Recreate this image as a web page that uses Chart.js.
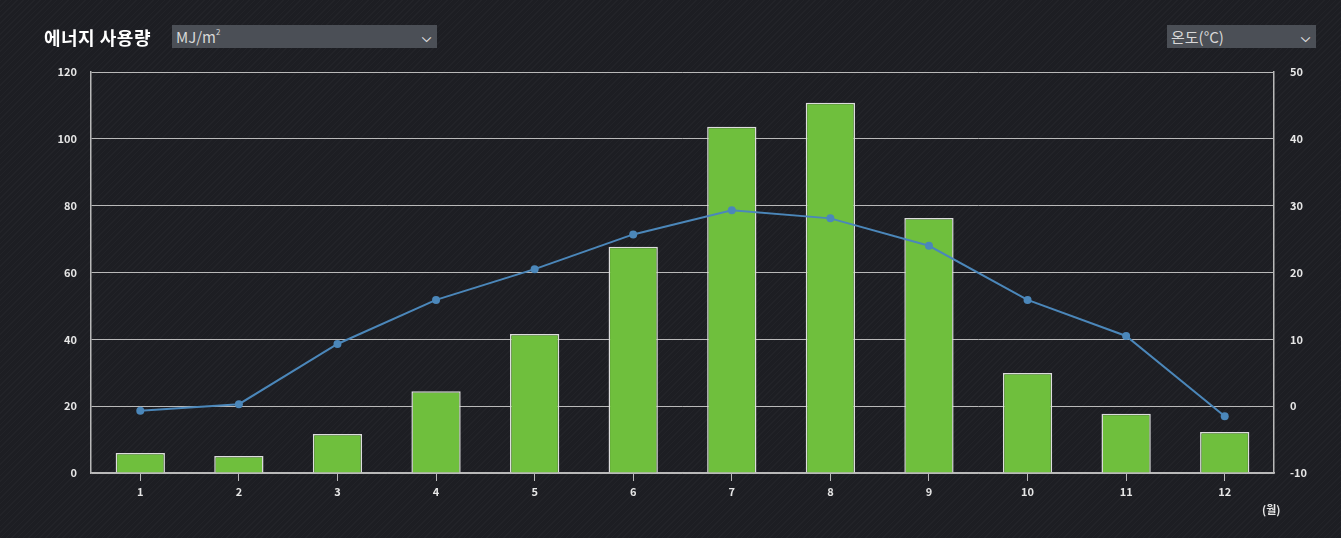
<!DOCTYPE html>
<html>
<head>
<meta charset="utf-8">
<script src="https://cdn.jsdelivr.net/npm/chart.js@4.4.1/dist/chart.umd.min.js"></script>
<style>
    html, body { margin: 0; padding: 0; }
    body {
        width: 1341px; height: 538px; overflow: hidden; position: relative;
        background-color: #1d1e23;
        background-image: repeating-linear-gradient(135deg, rgba(255,255,255,0.025) 0 1px, transparent 1px 4px);
        font-family: "Noto Sans CJK KR", "Noto Sans", sans-serif;
    }
    #chartWrap { position: absolute; left: 0; top: 0; width: 1341px; height: 538px; }
    .title { position: absolute; left: 44px; top: 24px; color: #fff; font-size: 18px; font-weight: bold; letter-spacing: 0.5px; }
    .select {
        position: absolute; top: 25px; height: 23px; background: #4b4f56; color: #d8d8d8;
        font-size: 15px; line-height: 23px; padding-left: 4px; box-sizing: border-box;
        font-family: "Noto Sans CJK KR", "Liberation Sans", sans-serif;
    }
    .select .arrow { position: absolute; right: 6px; top: 0; font-size: 12px; color: #ddd; font-weight: bold; }
    .unit sup { font-size: 8px; vertical-align: top; line-height: 14px; }
    .month { position: absolute; left: 1262px; top: 501px; color: #e6e6e6; font-size: 11px; font-weight: bold; }
</style>
</head>
<body>
<div id="chartWrap"><canvas id="energyChart"></canvas></div>
<div class="title">에너지 사용량</div>
<div class="select unit" style="left:172px; width:265px;">MJ/m<sup>2</sup><span class="arrow">&#x2335;</span></div>
<div class="select" style="left:1167px; width:149px;">온도(°C)<span class="arrow">&#x2335;</span></div>
<div class="month">(월)</div>

<script>
document.addEventListener('DOMContentLoaded', () => {
    // Data
    const months = ['1', '2', '3', '4', '5', '6', '7', '8', '9', '10', '11', '12'];
    const energyUse = [6.0, 5.1, 11.7, 24.5, 41.6, 67.7, 103.6, 110.8, 76.3, 29.9, 17.7, 12.3];
    const temperature = [-0.7, 0.3, 9.3, 15.9, 20.5, 25.7, 29.3, 28.1, 24.0, 15.9, 10.5, -1.5];

    const tickFont = { family: 'Noto Sans CJK KR', size: 11, weight: 'bold' };
    const tickColor = '#e6e6e6';
    const lineGray = '#b9b9b9';

    const ctx = document.getElementById('energyChart').getContext('2d');
    new Chart(ctx, {
        type: 'bar',
        data: {
            labels: months,
            datasets: [
                {
                    type: 'line',
                    label: '온도',
                    data: temperature,
                    yAxisID: 'y1',
                    borderColor: '#4b87ba',
                    backgroundColor: '#4b87ba',
                    borderWidth: 2,
                    pointRadius: 4,
                    pointBorderWidth: 0,
                    tension: 0,
                    order: 0
                },
                {
                    label: '에너지 사용량',
                    data: energyUse,
                    yAxisID: 'y',
                    backgroundColor: '#6fbf3d',
                    borderColor: '#dcdcdc',
                    borderWidth: 1.5,
                    barPercentage: 0.5,
                    categoryPercentage: 1.0,
                    order: 1
                }
            ]
        },
        options: {
            responsive: true,
            maintainAspectRatio: false,
            animation: false,
            layout: { padding: { top: 72, left: 0, right: 0, bottom: 0 } },
            plugins: { legend: { display: false }, tooltip: { enabled: false } },
            scales: {
                x: {
                    offset: true,
                    grid: { display: true, drawOnChartArea: false, drawTicks: true, tickLength: 8, offset: false, color: lineGray },
                    border: { display: true, color: lineGray, width: 1.5 },
                    ticks: { color: tickColor, font: tickFont, padding: 4 },
                    afterFit: (scale) => { scale.height = 65; }
                },
                y: {
                    position: 'left',
                    min: 0, max: 120,
                    ticks: { stepSize: 20, color: tickColor, font: tickFont, padding: 14 },
                    grid: { color: lineGray, drawTicks: false, lineWidth: 1 },
                    border: { display: true, color: lineGray, width: 1.5 },
                    afterFit: (scale) => { scale.width = 91; }
                },
                y1: {
                    position: 'right',
                    min: -10, max: 50,
                    ticks: { stepSize: 10, color: tickColor, font: tickFont, padding: 16 },
                    grid: { drawOnChartArea: false, drawTicks: false },
                    border: { display: true, color: lineGray, width: 1.5 },
                    afterFit: (scale) => { scale.width = 67; }
                }
            }
        }
    });
});
</script>
</body>
</html>
